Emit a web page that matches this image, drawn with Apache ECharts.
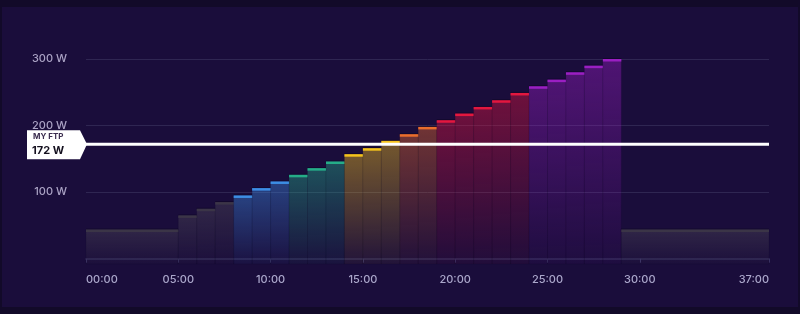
<!DOCTYPE html>
<html>
<head>
<meta charset="utf-8">
<script src="https://cdn.jsdelivr.net/npm/echarts@6/dist/echarts.min.js"></script>
<style>
html,body{margin:0;padding:0;background:#120a29;width:800px;height:314px;overflow:hidden}
#panel{position:absolute;left:2px;top:7px;width:796px;height:300px;background:#1a0d3b}
#c{position:absolute;left:0;top:0;width:800px;height:314px}
</style>
</head>
<body>
<div id="panel"></div>
<div id="c"></div>
<script>
// ---- data ----
const stepStart = [0,5,6,7,8,9,10,11,12,13,14,15,16,17,18,19,20,21,22,23,24,25,26,27,28,29];
const stepEnd   = [5,6,7,8,9,10,11,12,13,14,15,16,17,18,19,20,21,22,23,24,25,26,27,28,29,37];
const stepWatts = [44,65,75,85,95,106,116,126,136,146,157,166,177,187,198,208,218,228,238,249,259,269,280,290,300,44];
const stepZone  = ['rest','rest','rest','rest','blue','blue','blue','teal','teal','teal','yellow','yellow','yellow','orange','orange','red','red','red','red','red','purple','purple','purple','purple','purple','rest'];
const ftpWatts = 172;
const ftpTitle = 'MY FTP';
const xTickMinutes = [0,5,10,15,20,25,30,37];
const yTickWatts = [100,200,300];

const zoneColors = {
  rest:   {line:'#3b3547', fill:[80,74,88]},
  blue:   {line:'#3d8de4', fill:[61,141,228]},
  teal:   {line:'#25ad88', fill:[37,173,136]},
  yellow: {line:'#f5c31c', fill:[245,195,28]},
  orange: {line:'#ea6d2c', fill:[234,109,44]},
  red:    {line:'#e3173f', fill:[227,23,63]},
  purple: {line:'#9a1fc2', fill:[154,31,194]}
};

const stepData = stepStart.map((s,i)=>[s, stepEnd[i], stepWatts[i], i]);

function pad(v){ return (v<10?'0':'')+v+':00'; }

const chart = echarts.init(document.getElementById('c'), null, {renderer:'canvas'});
chart.setOption({
  animation:false,
  backgroundColor:'transparent',
  grid:{left:86, right:31, top:59, bottom:50, containLabel:false},
  xAxis:{
    type:'value', min:0, max:37,
    axisLine:{show:true, lineStyle:{color:'#2b2250', width:2}},
    axisTick:{show:true, customValues:xTickMinutes, length:4, lineStyle:{color:'#3c3366'}},
    axisLabel:{customValues:xTickMinutes, formatter:v=>pad(v), color:'#aba7cb', fontFamily:'Inter', fontSize:11, fontWeight:500, margin:10, alignMinLabel:'left', alignMaxLabel:'right'},
    splitLine:{show:false}
  },
  yAxis:{
    type:'value', min:-8, max:300,
    axisLine:{show:false},
    axisTick:{show:false, customValues:yTickWatts},
    axisLabel:{customValues:yTickWatts, formatter:v=>v+' W', color:'#aaa2c4', fontFamily:'Inter', fontSize:11, fontWeight:500, margin:19},
    splitLine:{show:true, lineStyle:{color:'#2f2652', width:1}}
  },
  series:[
    {
      type:'custom',
      data:stepData,
      encode:{x:[0,1], y:2},
      renderItem:function(params, api){
        const s = api.value(0), e = api.value(1), w = api.value(2), idx = api.value(3);
        const z = zoneColors[stepZone[idx]];
        const tl = api.coord([s, w]);
        const br = api.coord([e, -8]);
        const x = tl[0], y = tl[1], wd = br[0]-tl[0], h = br[1]-tl[1];
        const c = z.fill;
        const rgba = a => 'rgba('+c[0]+','+c[1]+','+c[2]+','+a+')';
        return {
          type:'group',
          children:[
            {type:'rect', shape:{x:x, y:y, width:wd, height:h},
             style:{fill:new echarts.graphic.LinearGradient(0,0,0,1,[
               {offset:0,color:rgba(0.42)},{offset:1,color:rgba(0.04)}]),
               stroke:'rgba(10,4,30,0.1)', lineWidth:1}},
            {type:'rect', shape:{x:x, y:y-1, width:wd, height:1}, style:{fill:'rgba(10,4,30,0.45)'}},
            {type:'rect', shape:{x:x, y:y, width:wd, height:2.5}, style:{fill:z.line}}
          ]
        };
      },
      z:2
    },
    {
      type:'custom',
      data:[[ftpWatts]],
      clip:false,
      renderItem:function(params, api){
        const w = api.value(0);
        const p0 = api.coord([0, w]);
        const p1 = api.coord([37, w]);
        const y = p0[1];
        const rx = p0[0];
        return {
          type:'group',
          children:[
            {type:'line', shape:{x1:rx, y1:y, x2:p1[0], y2:y}, style:{stroke:'#ffffff', lineWidth:3}},
            {type:'polygon', shape:{points:[[rx-59,y-14],[rx-6,y-14],[rx+1,y],[rx-6,y+15],[rx-59,y+15]]}, style:{fill:'#ffffff'}},
            {type:'text', style:{x:rx-53, y:y-8, text:ftpTitle, fill:'#3b2d4f', font:'bold 8px Inter', textVerticalAlign:'middle'}},
            {type:'text', style:{x:rx-54, y:y+6, text:w+' W', fill:'#14101e', font:'bold 11px Inter', textVerticalAlign:'middle'}}
          ]
        };
      },
      z:5
    }
  ]
});
</script>
</body>
</html>
